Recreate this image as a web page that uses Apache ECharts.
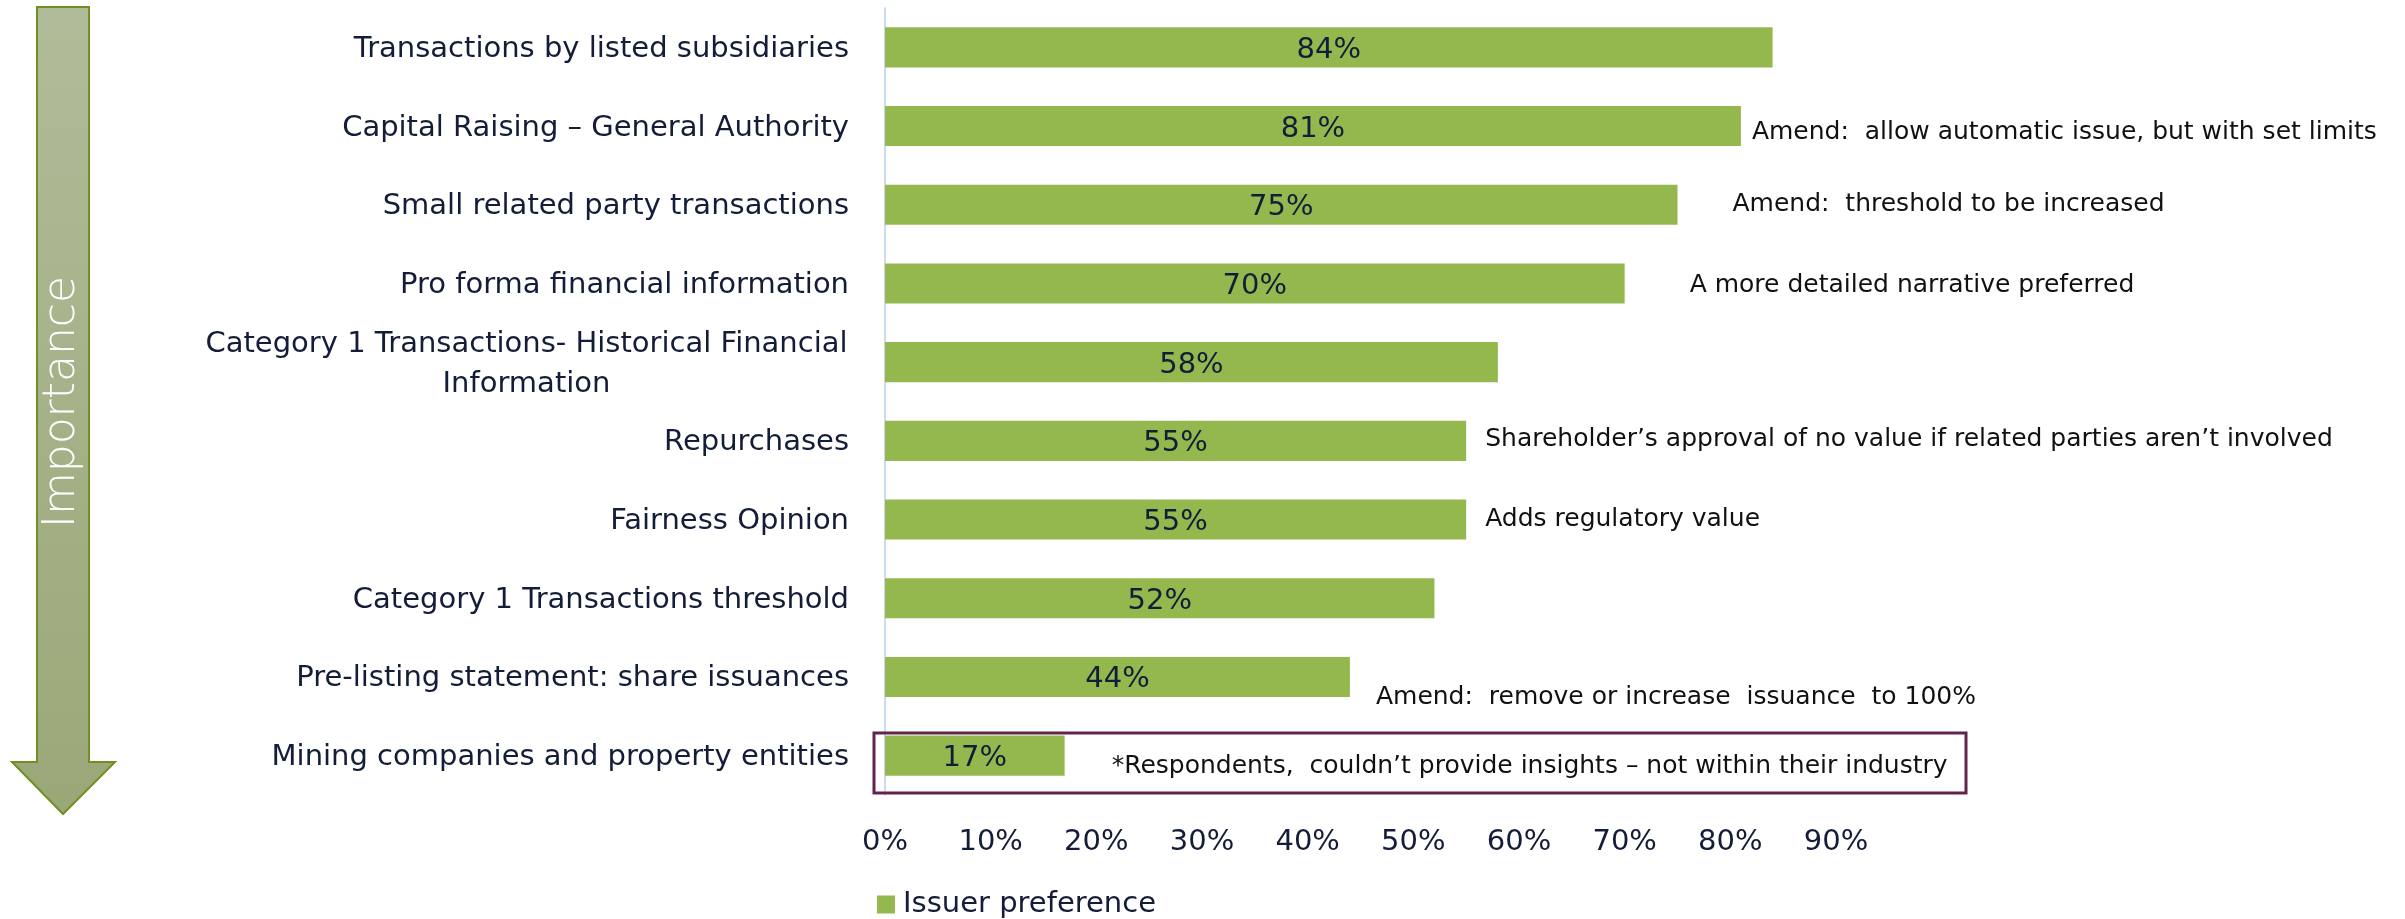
<!DOCTYPE html>
<html>
<head>
<meta charset="utf-8">
<script src="https://cdn.jsdelivr.net/npm/echarts@6/dist/echarts.min.js"></script>
<style>
  html, body { margin: 0; padding: 0; background: #fff; }
  #main { width: 2405px; height: 919px; }
</style>
</head>
<body>
<div id="main"></div>
<script>
// categories, top to bottom (most important first)
var categories = [
	'Transactions by listed subsidiaries',
	'Capital Raising \u2013 General Authority',
	'Small related party transactions',
	'Pro forma financial information',
	'Category 1 Transactions- Historical Financial\nInformation',
	'Repurchases',
	'Fairness Opinion',
	'Category 1 Transactions threshold',
	'Pre-listing statement: share issuances',
	'Mining companies and property entities'
];
// share of issuers (fraction)
var issuerPreference = [0.84, 0.81, 0.75, 0.70, 0.58, 0.55, 0.55, 0.52, 0.44, 0.17];
// comments written next to the bars
var notes = [
	'',
	'Amend:  allow automatic issue, but with set limits',
	'Amend:  threshold to be increased',
	'A more detailed narrative preferred',
	'',
	'Shareholder\u2019s approval of no value if related parties aren\u2019t involved',
	'Adds regulatory value',
	'',
	'Amend:  remove or increase  issuance  to 100%',
	'*Respondents,  couldn\u2019t provide insights \u2013 not within their industry'
];
var xTicks = [0, 0.1, 0.2, 0.3, 0.4, 0.5, 0.6, 0.7, 0.8, 0.9];

// where each note sits relative to the end of its bar: [distance, dy]
var noteLayout = [
	[0, 0], [11, 6], [55, 0], [65, 2], [0, 0], [19, -1], [19, 0], [0, 0], [26, 21], [47, 11]
];

var FONT = 'DejaVu Sans';
var TXT = '#141d38';
var GREEN = '#94b84e';

var chart = echarts.init(document.getElementById('main'));

var noteData = [];
for (var i = 0; i < issuerPreference.length; i++) {
	noteData.push({
		value : issuerPreference[i],
		label : {
			distance : noteLayout[i][0],
			offset : [0, noteLayout[i][1]]
		}
	});
}

var option = {
	animation : false,
	textStyle : { fontFamily : FONT },
	grid : {
		left : 885,
		top : 8,
		right : 2405 - 1836,
		height : 787,
		containLabel : false
	},
	legend : {
		data : [ 'Issuer preference' ],
		left : 872,
		top : 885,
		icon : 'rect',
		itemWidth : 18,
		itemHeight : 18,
		textStyle : { fontSize : 29, color : TXT, fontFamily : FONT, padding : [0, 0, 0, 3] }
	},
	xAxis : {
		type : 'value',
		min : xTicks[0],
		max : xTicks[xTicks.length - 1],
		interval : 0.1,
		splitLine : { show : false },
		axisLine : { show : false },
		axisTick : { show : false },
		axisLabel : {
			fontSize : 29,
			color : TXT,
			margin : 33,
			formatter : function(v) {
				return Math.round(v * 100) + '%';
			}
		}
	},
	yAxis : {
		type : 'category',
		inverse : true,
		data : categories,
		axisLine : { show : true, lineStyle : { color : '#b9d1f2', width : 1.5 } },
		axisTick : { show : false },
		axisLabel : {
			fontSize : 29,
			color : TXT,
			margin : 36,
			padding : [4, 0, 0, 0],
			formatter : function(v) {
				if (v.indexOf('\n') < 0) return v;
				return v.split('\n').map(function(s) { return '{c|' + s + '}'; }).join('\n');
			},
			rich : {
				c : { width : 645, align : 'center', fontSize : 29, color : TXT, lineHeight : 40, fontFamily : FONT }
			}
		}
	},
	series : [ {
		name : 'Issuer preference',
		type : 'bar',
		data : issuerPreference,
		barCategoryGap : '49%',
		itemStyle : { color : GREEN },
		label : {
			show : true,
			position : 'inside',
			fontSize : 29,
			color : TXT,
			offset : [0, 3],
			formatter : function(p) {
				return Math.round(p.value * 100) + '%';
			}
		},
		z : 3
	}, {
		name : 'notes',
		type : 'bar',
		data : noteData,
		barGap : '-100%',
		barCategoryGap : '49%',
		silent : true,
		itemStyle : { color : 'rgba(0,0,0,0)' },
		label : {
			show : true,
			position : 'right',
			fontSize : 25,
			color : '#111111',
			formatter : function(p) {
				return notes[p.dataIndex];
			}
		},
		z : 2
	} ],
	graphic : [ {
		// Importance arrow
		type : 'polygon',
		shape : {
			points : [ [37, 7], [89, 7], [89, 762], [115, 762], [63, 814], [12, 762], [37, 762] ]
		},
		style : {
			fill : new echarts.graphic.LinearGradient(0, 0, 0, 1, [
				{ offset : 0, color : '#b0bc99' },
				{ offset : 1, color : '#9aa878' }
			]),
			stroke : '#718f22',
			lineWidth : 2
		}
	}, {
		type : 'text',
		x : 63,
		y : 402,
		rotation : Math.PI / 2,
		style : {
			text : 'Importance',
			fill : '#ffffff',
			fontSize : 44,
			fontFamily : FONT,
			fontWeight : 300,
			align : 'center',
			verticalAlign : 'middle'
		}
	}, {
		// box around the last row
		type : 'rect',
		shape : { x : 874, y : 733, width : 1092, height : 60 },
		style : { fill : 'none', stroke : '#62244f', lineWidth : 3 },
		z : 10
	} ]
};
chart.setOption(option);
</script>
</body>
</html>
